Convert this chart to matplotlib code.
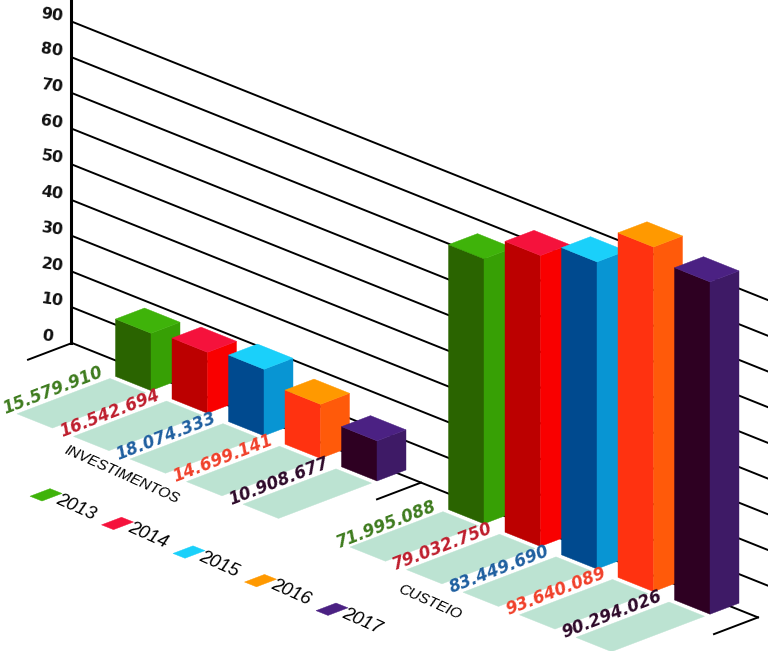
#!/usr/bin/env python3
import matplotlib
matplotlib.use('Agg')
import matplotlib.pyplot as plt

years = ['2013', '2014', '2015', '2016', '2017']
investimentos = [15579910, 16542694, 18074333, 14699141, 10908677]
custeio = [71995088, 79032750, 83449690, 93640089, 90294026]
group_names = ['INVESTIMENTOS', 'CUSTEIO']
axis_ticks = [0, 10, 20, 30, 40, 50, 60, 70, 80, 90]

# colours per year
top_colors = ['#3FB30A', '#F5123C', '#1AD0FA', '#FF9900', '#4B2183']
front_colors = ['#2A6400', '#BC0000', '#004A8F', '#FF3210', '#2E0022']
side_colors = ['#37A005', '#F90000', '#0895D3', '#FF5A0A', '#3E1A66']
label_colors = ['#3E7B1E', '#BE1E2D', '#1F5FA0', '#F0402A', '#2E0A2A']
strip_color = '#BCE3D2'

# the oblique projection of the original picture, in pixels
ORIGIN_X, ORIGIN_Y = 72, 343
CAT_SLOPE, DEPTH_SLOPE = 0.40, 0.38
WALL_SCALE, BAR_SCALE = 3.57, 3.68
GROUP_START = [99.5, 432.5]
BAR_STEP = 56.5
BAR_W, BAR_D = 35.5, 29
BAR_FRONT = -20.5


def project(c, d=0, z=0):
  return ORIGIN_X + c + d, ORIGIN_Y + CAT_SLOPE * c - DEPTH_SLOPE * d - z


def quad(ax, corners, color, zorder):
  pts = [project(*p) for p in corners]
  ax.fill([p[0] for p in pts], [p[1] for p in pts], color=color, lw=0.3, zorder=zorder)


fig = plt.figure(figsize=(7.68, 6.51), dpi=100)
ax = fig.add_axes([0, 0, 1, 1])
ax.set_xlim(0, 768)
ax.set_ylim(651, 0)
ax.axis('off')

# wall lines and value labels
for t in axis_ticks:
  end = 686 if t == 0 else 720
  x0, y0 = project(0, 0, t * WALL_SCALE)
  x1, y1 = project(end, 0, t * WALL_SCALE)
  ax.plot([x0, x1], [y0, y1], color='black', lw=1.4, zorder=1)
  ax.text(41 if t == 0 else 40, y0 - 7, str(t), ha='left', va='center', rotation=-8,
          family='DejaVu Sans', fontweight='bold', fontsize=11.5, color='#111111', zorder=5)
ax.plot([ORIGIN_X - 1, ORIGIN_X - 1], [0, ORIGIN_Y], color='black', lw=2.2, zorder=2)

# ticks on the floor
for c in [0, 349, 686]:
  x0, y0 = project(c, 0)
  x1, y1 = project(c, -44)
  ax.plot([x0, x1], [y0, y1], color='black', lw=1.4, zorder=1)

# bars, floor strips and their value labels
for g, values in enumerate([investimentos, custeio]):
  for i, v in enumerate(values):
    c = GROUP_START[g] + i * BAR_STEP
    c0 = c - BAR_W
    d0, d1 = BAR_FRONT, BAR_FRONT + BAR_D
    h = v / 1e6 * BAR_SCALE

    quad(ax, [(c0, -26), (c, -26), (c, -119), (c0, -119)], strip_color, 3)

    z = 10 + i
    quad(ax, [(c0, d0, 0), (c, d0, 0), (c, d0, h), (c0, d0, h)], front_colors[i], z)
    quad(ax, [(c, d0, 0), (c, d1, 0), (c, d1, h), (c, d0, h)], side_colors[i], z)
    quad(ax, [(c0, d0, h), (c, d0, h), (c, d1, h), (c0, d1, h)], top_colors[i], z)

    lx, ly = project(c0 - 12, -71)
    ax.text(lx, ly, f'{v:,}'.replace(',', '.'), ha='center', va='center', rotation=21,
            rotation_mode='anchor', family='DejaVu Sans', fontweight='bold', style='oblique',
            fontsize=12, color=label_colors[i], zorder=25)

narrow = ['Liberation Sans Narrow', 'Liberation Sans']

# group names
ax.text(122, 475, group_names[0], ha='center', va='center', rotation=-24, rotation_mode='anchor',
        family=narrow, style='italic', fontsize=11, color='black', zorder=25)
ax.text(430, 602, group_names[1], ha='center', va='center', rotation=-24, rotation_mode='anchor',
        family=narrow, style='italic', fontsize=11, color='black', zorder=25)

# legend lying on the floor
for i, year in enumerate(years):
  c = 182 + i * 71.5
  quad(ax, [(c - 6, -218), (c + 6, -218), (c + 6, -198), (c - 6, -198)], top_colors[i], 4)
  lx, ly = project(c + 30, -208)
  ax.text(lx, ly, year, ha='center', va='center', rotation=-24, rotation_mode='anchor',
          family=narrow, style='italic', fontsize=13.5, color='black', zorder=25)

fig.savefig('out.png', dpi=100)
